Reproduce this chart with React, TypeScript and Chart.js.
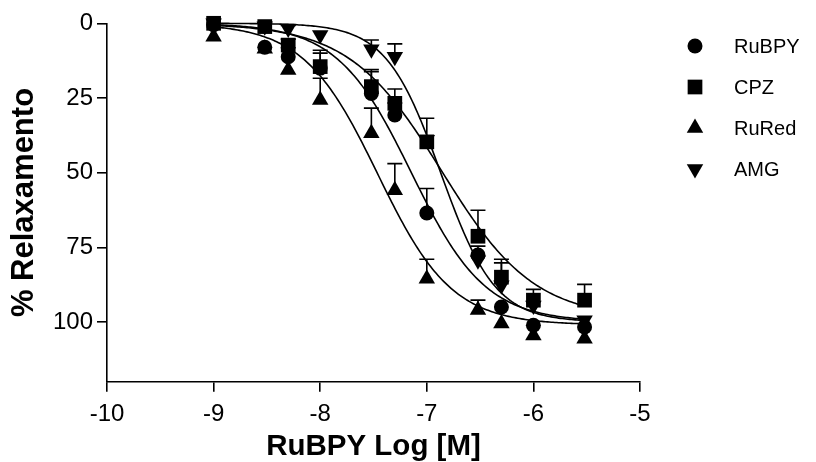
import React, { useEffect, useRef } from "react";
import { Chart, registerables } from "chart.js";

Chart.register(...registerables);

// ---- data ----
const logConc = [-9, -8.52, -8.3, -8, -7.52, -7.3, -7, -6.52, -6.3, -6, -5.52];
const seriesNames = ["RuBPY", "CPZ", "RuRed", "AMG"];

const rubpyMean = [0.5, 8, 11.2, 15, 23.5, 30.7, 63.5, 77.6, 95, 101.1, 101.7];
const rubpySem = [0, 0, 3, 5, 8, 4, 8.2, 3, 0, 0, 0];

const cpzMean = [0, 1.1, 7.3, 14.5, 21.2, 26.8, 39.7, 71.3, 85, 92.7, 92.7];
const cpzSem = [0, 0, 2, 5.5, 5, 4.8, 7.9, 8.7, 6, 3.6, 5.3];

const ruredMean = [4.5, 8.5, 15.6, 25.7, 36.8, 55.9, 85.5, 96, 100.5, 104.5, 105.6];
const ruredSem = [0, 0, 0, 7.3, 8.4, 8.9, 6.5, 3.3, 0, 0, 0];

const amgMean = [0, 1, 1.7, 3.9, 8.7, 11.2, 39, 79.3, 87.7, 94.5, 99.4];
const amgSem = [0, 0, 1, 0, 3.1, 4.3, 0, 0, 7.5, 0, 0];

// sigmoidal (4-parameter logistic) fit parameters per series
const fitLogEC50 = [-7.145, -6.86, -7.46, -6.87];
const fitHill = [1.25, 1.0, 1.25, 1.7];
const fitBottom = [100, 99, 101, 100];
const fitTop = [0, 0, 0, 0];

const xTicks = [-10, -9, -8, -7, -6, -5];
const yTicks = [0, 25, 50, 75, 100];

// ---- styling ----
const FONT = "'Liberation Sans', Arial, Helvetica, sans-serif";
const markerStyles = ["circle", "rect", "triangle", "triangle"];
const markerRotation = [0, 0, 0, 180];
const markerRadius = [7.5, 10.4, 9.5, 9.5];

const means = [rubpyMean, cpzMean, ruredMean, amgMean];
const sems = [rubpySem, cpzSem, ruredSem, amgSem];

function fitCurve(i: number) {
  const pts: { x: number; y: number }[] = [];
  const x0 = logConc[0];
  const x1 = logConc[logConc.length - 1];
  const n = 200;
  for (let k = 0; k <= n; k++) {
    const x = x0 + ((x1 - x0) * k) / n;
    const y =
      fitTop[i] +
      (fitBottom[i] - fitTop[i]) / (1 + Math.pow(10, (fitLogEC50[i] - x) * fitHill[i]));
    pts.push({ x, y });
  }
  return pts;
}

function drawMarker(ctx: CanvasRenderingContext2D, i: number, x: number, y: number) {
  const r = markerRadius[i];
  ctx.beginPath();
  if (markerStyles[i] === "circle") {
    ctx.arc(x, y, r, 0, Math.PI * 2);
  } else if (markerStyles[i] === "rect") {
    const s = Math.SQRT1_2 * r;
    ctx.rect(x - s, y - s, 2 * s, 2 * s);
  } else {
    let rad = (markerRotation[i] * Math.PI) / 180;
    ctx.moveTo(x + Math.sin(rad) * r, y - Math.cos(rad) * r);
    rad += (2 * Math.PI) / 3;
    ctx.lineTo(x + Math.sin(rad) * r, y - Math.cos(rad) * r);
    rad += (2 * Math.PI) / 3;
    ctx.lineTo(x + Math.sin(rad) * r, y - Math.cos(rad) * r);
    ctx.closePath();
  }
  ctx.fill();
}

const errorBarPlugin = {
  id: "errorBars",
  beforeDatasetsDraw(chart: any) {
    const ctx = chart.ctx as CanvasRenderingContext2D;
    const xs = chart.scales.x;
    const ys = chart.scales.y;
    ctx.save();
    ctx.strokeStyle = "#000";
    ctx.lineWidth = 1.6;
    means.forEach((m, s) => {
      m.forEach((v, i) => {
        const e = sems[s][i];
        if (!e) return;
        const px = xs.getPixelForValue(logConc[i]);
        const py = ys.getPixelForValue(v);
        const pt = ys.getPixelForValue(v - e);
        ctx.beginPath();
        ctx.moveTo(px, py);
        ctx.lineTo(px, pt);
        ctx.moveTo(px - 7.5, pt);
        ctx.lineTo(px + 7.5, pt);
        ctx.stroke();
      });
    });
    ctx.restore();
  },
};

const legendPlugin = {
  id: "customLegend",
  afterDraw(chart: any) {
    const ctx = chart.ctx as CanvasRenderingContext2D;
    ctx.save();
    ctx.fillStyle = "#000";
    ctx.font = `20px ${FONT}`;
    ctx.textBaseline = "middle";
    ctx.textAlign = "left";
    seriesNames.forEach((name, i) => {
      const y = 46 + i * 41;
      drawMarker(ctx, i, 695, y);
      ctx.fillText(name, 734, y + 1);
    });
    ctx.restore();
  },
};

export default function App() {
  const canvasRef = useRef<HTMLCanvasElement | null>(null);

  useEffect(() => {
    if (!canvasRef.current) return;
    const datasets: any[] = [];
    seriesNames.forEach((name, i) => {
      datasets.push({
        label: name + " fit",
        data: fitCurve(i),
        showLine: true,
        borderColor: "#000",
        borderWidth: 1.6,
        pointRadius: 0,
        fill: false,
        tension: 0,
        clip: false,
      });
    });
    seriesNames.forEach((name, i) => {
      datasets.push({
        label: name,
        data: logConc.map((x, k) => ({ x, y: means[i][k] })),
        showLine: false,
        pointStyle: markerStyles[i],
        rotation: markerRotation[i],
        pointRadius: markerRadius[i],
        pointBackgroundColor: "#000",
        pointBorderColor: "#000",
        pointBorderWidth: 0,
        clip: false,
      });
    });

    const chart = new Chart(canvasRef.current, {
      type: "scatter",
      data: { datasets },
      options: {
        animation: false,
        responsive: true,
        maintainAspectRatio: false,
        layout: { padding: { top: 23.3, right: 176, left: 0, bottom: 0 } },
        plugins: { legend: { display: false }, tooltip: { enabled: false } },
        scales: {
          x: {
            type: "linear",
            min: -10,
            max: -5,
            afterBuildTicks: (s: any) => {
              s.ticks = xTicks.map((v) => ({ value: v }));
            },
            afterFit: (s: any) => {
              s.height = 80.3;
            },
            grid: {
              display: true,
              drawOnChartArea: false,
              drawTicks: true,
              tickLength: 10,
              color: "#000",
              lineWidth: 1.6,
            },
            border: { display: true, color: "#000", width: 1.6 },
            ticks: {
              color: "#000",
              font: { family: FONT, size: 24 },
              padding: 8,
              maxRotation: 0,
            },
            title: {
              display: true,
              text: "RuBPY Log [M]",
              color: "#000",
              font: { family: FONT, size: 29.5, weight: "bold", lineHeight: 1 },
              padding: { top: 0, bottom: 0 },
            },
          },
          y: {
            type: "linear",
            reverse: true,
            min: 0,
            max: 120,
            afterBuildTicks: (s: any) => {
              s.ticks = yTicks.map((v) => ({ value: v }));
            },
            afterFit: (s: any) => {
              s.width = 107;
            },
            grid: {
              display: true,
              drawOnChartArea: false,
              drawTicks: true,
              tickLength: 10,
              color: "#000",
              lineWidth: 1.6,
            },
            border: { display: true, color: "#000", width: 1.6 },
            ticks: {
              color: "#000",
              font: { family: FONT, size: 24 },
              padding: 4,
            },
            title: {
              display: true,
              text: "% Relaxamento",
              color: "#000",
              font: { family: FONT, size: 31, weight: "bold", lineHeight: 1 },
              padding: { top: 8.5, bottom: 0 },
            },
          },
        },
      },
      plugins: [errorBarPlugin, legendPlugin],
    } as any);

    return () => chart.destroy();
  }, []);

  return (
    <div
      style={{
        position: "fixed",
        left: 0,
        top: 0,
        width: 816,
        height: 462,
        background: "#fff",
      }}
    >
      <canvas ref={canvasRef} />
    </div>
  );
}
